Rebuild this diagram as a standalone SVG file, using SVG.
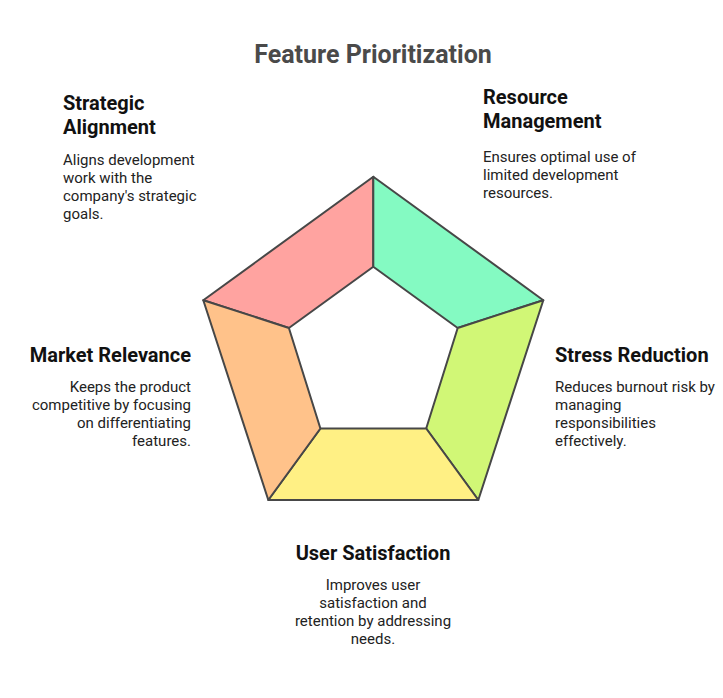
<svg xmlns="http://www.w3.org/2000/svg" width="723" height="698" viewBox="0 0 723 698">
  <style>
    .seg { stroke: #474747; stroke-width: 2; stroke-linejoin: round; }
    .title { font-family: Roboto, "Liberation Sans", sans-serif; font-weight: 700; font-size: 25px; fill: #4a4a4a; }
    .head { font-family: Roboto, "Liberation Sans", sans-serif; font-weight: 700; font-size: 20px; fill: #111111; }
    .desc { font-family: Roboto, "Liberation Sans", sans-serif; font-size: 15px; fill: #222222; }
  </style>
  <rect width="723" height="698" fill="#ffffff"/>
  <text class="title" x="373" y="63" text-anchor="middle">Feature Prioritization</text>

  <!-- pentagon ring segments -->
  <g id="segments">
    <g id="seg-strategic"><polygon class="seg" fill="#FFA3A0" points="373.3,176.7 373.3,266.7 288.9,328 203.3,300.2"/></g>
    <g id="seg-resource"><polygon class="seg" fill="#84FAC2" points="373.3,176.7 543.3,300.2 457.7,328 373.3,266.7"/></g>
    <g id="seg-stress"><polygon class="seg" fill="#D1F776" points="543.3,300.2 478.3,500 426.2,428.5 457.7,328"/></g>
    <g id="seg-user"><polygon class="seg" fill="#FFF084" points="478.3,500 268.3,500 320.4,428.5 426.2,428.5"/></g>
    <g id="seg-market"><polygon class="seg" fill="#FFC28A" points="268.3,500 203.3,300.2 288.9,328 320.4,428.5"/></g>
  </g>

  <g id="strategic-alignment">
    <text class="head" x="63" y="110">Strategic</text>
    <text class="head" x="63" y="134">Alignment</text>
    <text class="desc" x="63" y="165">Aligns development</text>
    <text class="desc" x="63" y="183">work with the</text>
    <text class="desc" x="63" y="201">company's strategic</text>
    <text class="desc" x="63" y="219">goals.</text>
  </g>

  <g id="resource-management">
    <text class="head" x="483" y="104">Resource</text>
    <text class="head" x="483" y="128">Management</text>
    <text class="desc" x="483" y="162">Ensures optimal use of</text>
    <text class="desc" x="483" y="180">limited development</text>
    <text class="desc" x="483" y="198">resources.</text>
  </g>

  <g id="market-relevance" text-anchor="end">
    <text class="head" x="191" y="362">Market Relevance</text>
    <text class="desc" x="191" y="392">Keeps the product</text>
    <text class="desc" x="191" y="410">competitive by focusing</text>
    <text class="desc" x="191" y="428">on differentiating</text>
    <text class="desc" x="191" y="446">features.</text>
  </g>

  <g id="stress-reduction">
    <text class="head" x="555" y="362">Stress Reduction</text>
    <text class="desc" x="555" y="392">Reduces burnout risk by</text>
    <text class="desc" x="555" y="410">managing</text>
    <text class="desc" x="555" y="428">responsibilities</text>
    <text class="desc" x="555" y="446">effectively.</text>
  </g>

  <g id="user-satisfaction" text-anchor="middle">
    <text class="head" x="373" y="560">User Satisfaction</text>
    <text class="desc" x="373" y="590">Improves user</text>
    <text class="desc" x="373" y="608">satisfaction and</text>
    <text class="desc" x="373" y="626">retention by addressing</text>
    <text class="desc" x="373" y="644">needs.</text>
  </g>
</svg>
